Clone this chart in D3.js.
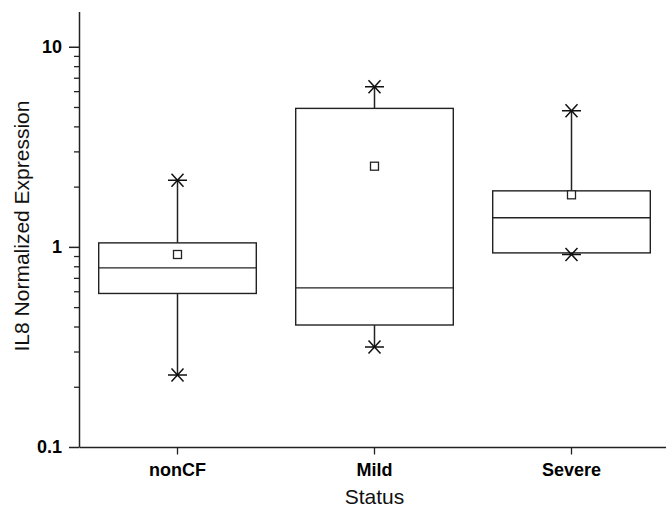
<!DOCTYPE html>
<html>
<head>
<meta charset="utf-8">
<script src="https://cdn.jsdelivr.net/npm/d3@7"></script>
<style>
  body { margin: 0; background: #fff; }
  svg { display: block; }
  svg text { font-family: Arial, "Liberation Sans", sans-serif; }
</style>
</head>
<body>
<div id="chart"></div>
<script>
// data
const categories = ['nonCF', 'Mild', 'Severe'];
const q1 = [0.585, 0.407, 0.933];
const median = [0.785, 0.624, 1.397];
const q3 = [1.047, 4.92, 1.905];
const mean = [0.916, 2.53, 1.82];
const minVal = [0.229, 0.316, 0.916];
const maxVal = [2.15, 6.31, 4.79];
const majorTicks = [0.1, 1, 10];

const width = 666;
const height = 509;
const margin = {top: 11, right: -4, bottom: 62, left: 79};

const svg = d3.select('#chart').append('svg')
  .attr('width', width)
  .attr('height', height);

const x = d3.scaleBand()
  .domain(categories)
  .range([margin.left, width - margin.right])
  .padding(0);

const y = d3.scaleLog()
  .domain([0.1, 15])
  .range([height - margin.bottom, margin.top + 0.5]);

const stroke = '#222';

// minor ticks 2..9 per decade
const minorTicks = [];
[0.1, 1, 10].forEach(d => {
  for (let k = 2; k <= 9; k++) {
    const v = d * k;
    if (v <= 15) minorTicks.push(v);
  }
});

// y axis
svg.append('g')
  .attr('transform', `translate(${margin.left},0)`)
  .call(d3.axisLeft(y).tickValues(minorTicks).tickSize(5).tickFormat(''))
  .call(g => g.select('.domain').remove())
  .call(g => g.selectAll('line').attr('stroke', stroke).attr('stroke-width', 1.3));

const yAxis = svg.append('g')
  .attr('transform', `translate(${margin.left},0)`)
  .attr('font-family', null)
  .call(d3.axisLeft(y).tickValues(majorTicks).tickSize(10).tickSizeOuter(0).tickPadding(7)
    .tickFormat(d => d3.format('~g')(d)));
yAxis.attr('font-family', null);
yAxis.select('.domain').attr('stroke', stroke).attr('stroke-width', 1.5);
yAxis.selectAll('line').attr('stroke', stroke).attr('stroke-width', 1.5);
yAxis.selectAll('text')
  .attr('fill', '#000')
  .style('font-size', '18px')
  .style('font-weight', 'bold');

// x axis
const xAxis = svg.append('g')
  .attr('transform', `translate(0,${y(0.1)})`)
  .call(d3.axisBottom(x).tickSize(7.5).tickSizeOuter(0).tickPadding(9));
xAxis.attr('font-family', null);
xAxis.select('.domain').attr('stroke', stroke).attr('stroke-width', 1.5);
xAxis.selectAll('line').attr('stroke', stroke).attr('stroke-width', 1.3);
xAxis.selectAll('text')
  .attr('fill', '#000')
  .style('font-size', '18px')
  .style('font-weight', 'bold');

// axis titles
svg.append('text')
  .attr('transform', `translate(28.5,${(margin.top + y(0.1)) / 2 - 3}) rotate(-90)`)
  .attr('text-anchor', 'middle')
  .style('font-size', '21px')
  .attr('fill', '#111')
  .text('IL8 Normalized Expression');

svg.append('text')
  .attr('x', x('Mild') + x.bandwidth() / 2)
  .attr('y', 504)
  .attr('text-anchor', 'middle')
  .style('font-size', '21px')
  .attr('fill', '#111')
  .text('Status');

// boxes
const boxW = x.bandwidth() * 0.8;
const boxes = svg.append('g')
  .selectAll('g')
  .data(categories)
  .join('g')
  .attr('transform', d => `translate(${x(d) + x.bandwidth() / 2},0)`);

// whiskers
boxes.append('line')
  .attr('x1', 0).attr('x2', 0)
  .attr('y1', (d, i) => y(q3[i]))
  .attr('y2', (d, i) => y(maxVal[i]))
  .attr('stroke', stroke).attr('stroke-width', 1.5);
boxes.append('line')
  .attr('x1', 0).attr('x2', 0)
  .attr('y1', (d, i) => y(q1[i]))
  .attr('y2', (d, i) => y(minVal[i]))
  .attr('stroke', stroke).attr('stroke-width', 1.5);

boxes.append('rect')
  .attr('x', -boxW / 2)
  .attr('width', boxW)
  .attr('y', (d, i) => y(q3[i]))
  .attr('height', (d, i) => y(q1[i]) - y(q3[i]))
  .attr('fill', 'none')
  .attr('stroke', stroke).attr('stroke-width', 1.4);

boxes.append('line')
  .attr('x1', -boxW / 2).attr('x2', boxW / 2)
  .attr('y1', (d, i) => y(median[i]))
  .attr('y2', (d, i) => y(median[i]))
  .attr('stroke', stroke).attr('stroke-width', 1.4);

// mean squares
boxes.append('rect')
  .attr('x', -4)
  .attr('y', (d, i) => y(mean[i]) - 4)
  .attr('width', 8).attr('height', 8)
  .attr('fill', '#fff')
  .attr('stroke', stroke).attr('stroke-width', 1.3);

// asterisk markers for min / max
const star = 'M-9.5,0H9.5M-6,-6.5L6,6.5M-6,6.5L6,-6.5';
[minVal, maxVal].forEach(arr => {
  boxes.append('path')
    .attr('transform', (d, i) => `translate(0,${y(arr[i])})`)
    .attr('d', star)
    .attr('fill', 'none')
    .attr('stroke', '#111').attr('stroke-width', 1.5);
});
</script>
</body>
</html>
